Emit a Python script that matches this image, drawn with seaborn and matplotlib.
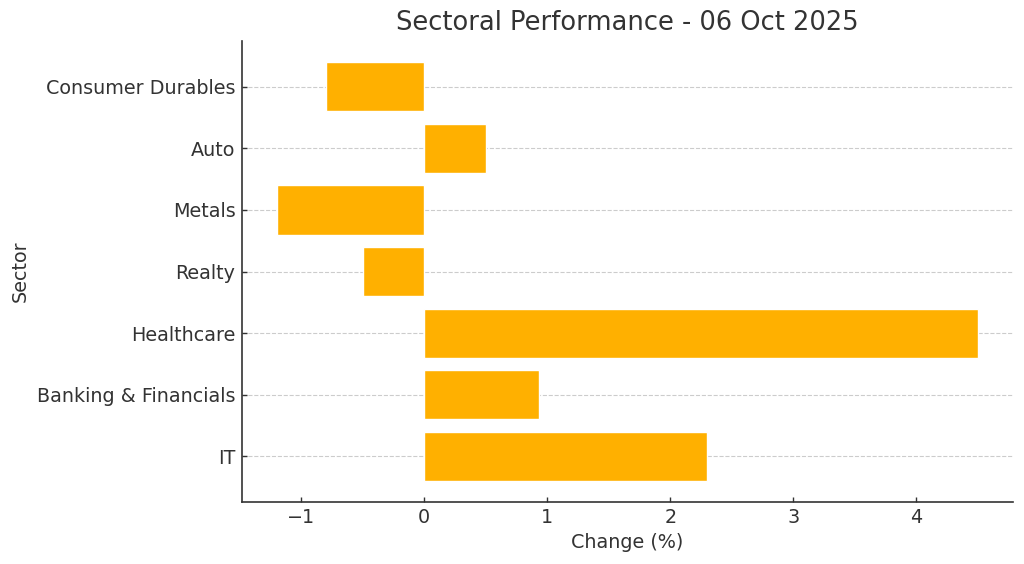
import matplotlib
matplotlib.use("Agg")
import matplotlib.pyplot as plt
import seaborn as sns
import pandas as pd

# Sector data (top to bottom as shown)
sectors = ["Consumer Durables", "Auto", "Metals", "Realty", "Healthcare",
           "Banking & Financials", "IT"]
changes = [-0.8, 0.5, -1.2, -0.5, 4.5, 0.93, 2.3]

df = pd.DataFrame({"Sector": sectors, "Change (%)": changes})

sns.set_style("white")
plt.rcParams["font.family"] = ["DejaVu Sans"]
text_color = "#333333"
plt.rcParams["text.color"] = text_color
plt.rcParams["axes.labelcolor"] = text_color
plt.rcParams["xtick.color"] = text_color
plt.rcParams["ytick.color"] = text_color

fig = plt.figure(figsize=(10.24, 5.64), dpi=100)
ax = fig.add_axes([0.236, 0.110, 0.753, 0.817])

sns.barplot(data=df, x="Change (%)", y="Sector", order=sectors, orient="h",
            color="#FFB000", saturation=1, width=0.8, ax=ax)

ax.set_ylim(6.74, -0.74)
ax.set_xlim(-1.485, 4.785)

ax.grid(axis="y", linestyle="--", color="#cccccc", linewidth=0.8)
ax.set_axisbelow(True)
ax.tick_params(axis="both", labelsize=13.8, length=3.5, width=1, direction="in",
               pad=4.5, left=True, bottom=True)
for side in ["top", "right"]:
    ax.spines[side].set_visible(False)
for side in ["left", "bottom"]:
    ax.spines[side].set_color(text_color)
    ax.spines[side].set_linewidth(1.2)

ax.set_title("Sectoral Performance - 06 Oct 2025", fontsize=18.5, color=text_color,
             pad=8)
ax.set_xlabel("Change (%)", fontsize=13.8)
ax.set_ylabel("Sector", fontsize=13.8, labelpad=5)

fig.savefig("out.png", dpi=100)
